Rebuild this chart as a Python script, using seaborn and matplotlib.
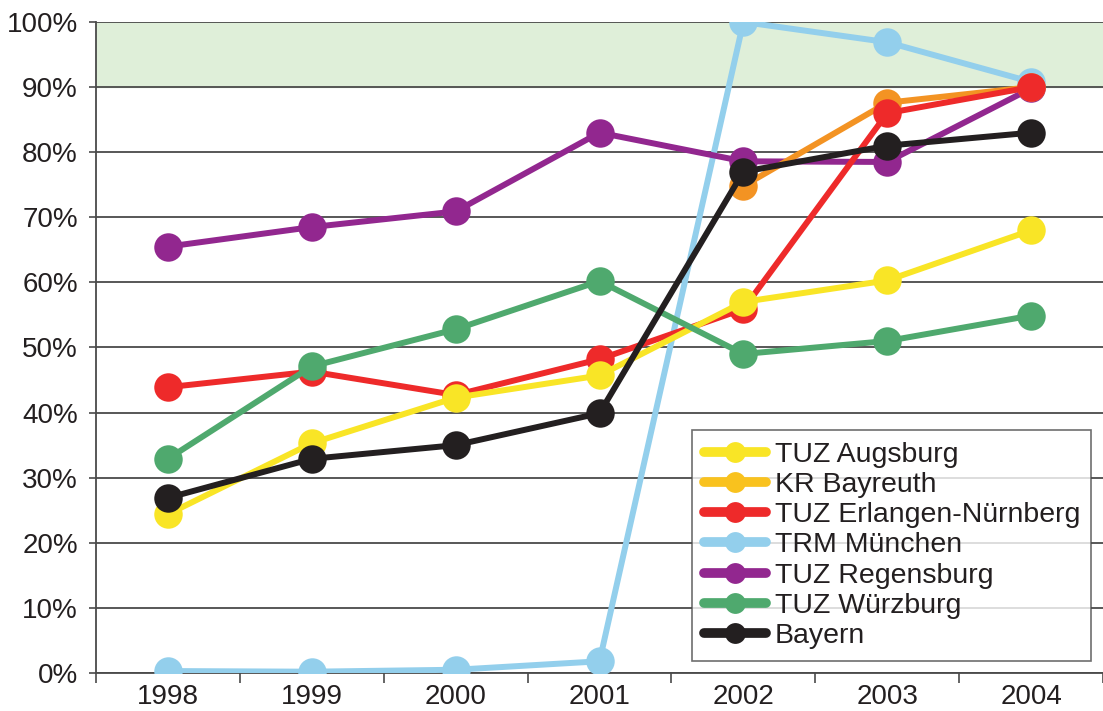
import numpy as np
import pandas as pd
import matplotlib
matplotlib.use("Agg")
import matplotlib.pyplot as plt
import seaborn as sns
from matplotlib.ticker import FixedLocator, PercentFormatter

years = [1998, 1999, 2000, 2001, 2002, 2003, 2004]
augsburg = [24.4, 35.3, 42.3, 45.7, 57.0, 60.3, 68.0]
bayreuth = [np.nan, np.nan, np.nan, np.nan, 74.8, 87.6, 90.0]
erlangen = [43.9, 46.3, 42.7, 48.2, 55.9, 86.0, 90.0]
muenchen = [0.3, 0.2, 0.5, 1.8, 100.0, 96.9, 90.8]
regensburg = [65.5, 68.5, 70.9, 83.0, 78.6, 78.5, 89.8]
wuerzburg = [32.9, 47.1, 52.8, 60.2, 49.0, 51.0, 54.9]
bayern = [26.9, 32.9, 35.0, 39.9, 77.0, 81.0, 83.0]

series_names = ["TUZ Augsburg", "KR Bayreuth", "TUZ Erlangen-Nürnberg",
                "TRM München", "TUZ Regensburg", "TUZ Würzburg", "Bayern"]
series_values = [augsburg, bayreuth, erlangen, muenchen, regensburg, wuerzburg, bayern]
colors = ["#F9E526", "#F39323", "#EE2A2A", "#93CFEC", "#92278F", "#4FA96E", "#231F20"]
legend_colors = ["#F9E526", "#F9C21E", "#EE2A2A", "#93CFEC", "#92278F", "#4FA96E", "#231F20"]
draw_order = ["TRM München", "TUZ Regensburg", "KR Bayreuth", "TUZ Erlangen-Nürnberg",
              "TUZ Augsburg", "TUZ Würzburg", "Bayern"]
y_ticks = [0, 10, 20, 30, 40, 50, 60, 70, 80, 90, 100]

rows = []
for name, vals in zip(series_names, series_values):
    for yr, v in zip(years, vals):
        rows.append({"Jahr": yr, "Wert": v, "Serie": name})
df = pd.DataFrame(rows).dropna()

sns.set_theme(style="white")
plt.rcParams["font.family"] = ["Liberation Sans", "DejaVu Sans"]

fig = plt.figure(figsize=(11.03, 7.11), dpi=100)
ax = fig.add_axes([96 / 1103, 38 / 711, 1 - 96 / 1103, 651 / 711])

ax.axhspan(90, 100, color="#DFEFD9", zorder=0)
for t in y_ticks:
    ax.axhline(t, color="#4a4a4a", lw=1.3, zorder=1)

palette = dict(zip(series_names, colors))
for i, name in enumerate(draw_order):
    sub = df[df["Serie"] == name]
    sns.lineplot(data=sub, x="Jahr", y="Wert", color=palette[name], lw=4.3,
                 marker="o", markersize=20.5, markeredgewidth=0, ax=ax,
                 zorder=3 + i, legend=False)

ax.set_xlim(1997.5, 2004.5)
ax.set_ylim(0, 100)
ax.set_xlabel("")
ax.set_ylabel("")

ax.xaxis.set_minor_locator(FixedLocator([y - 0.5 for y in years] + [years[-1] + 0.5]))
ax.set_xticks(years)
ax.set_xticklabels([str(y) for y in years], fontsize=20, color="#231F20")
ax.tick_params(axis="x", which="major", length=0, pad=8)
ax.tick_params(axis="x", which="minor", length=7, width=1.2, color="#4a4a4a", direction="out", bottom=True)
ax.set_yticks(y_ticks)
ax.yaxis.set_major_formatter(PercentFormatter(decimals=0))
ax.tick_params(axis="y", which="major", length=5, width=1.2, color="#4a4a4a", direction="out",
               labelsize=20, labelcolor="#231F20", pad=8, left=True)

for s in ["top", "right"]:
    ax.spines[s].set_visible(False)
for s in ["left", "bottom"]:
    ax.spines[s].set_color("#4a4a4a")
    ax.spines[s].set_linewidth(1.3)
    ax.spines[s].set_zorder(2)

handles = [plt.Line2D([], [], color=c, lw=7, marker="o", markersize=15, markeredgewidth=0)
           for c in legend_colors]
leg = ax.legend(handles, series_names, loc="upper left", bbox_to_anchor=(0.592, 0.373),
                borderaxespad=0, fontsize=20.5, handlelength=2.2, handletextpad=0.3,
                labelspacing=0.15, borderpad=0.4, frameon=True, fancybox=False)
leg.get_frame().set_edgecolor("#4a4a4a")
leg.get_frame().set_linewidth(1.2)
leg.set_zorder(20)
for t in leg.get_texts():
    t.set_color("#231F20")

fig.savefig("out.png", dpi=100)
